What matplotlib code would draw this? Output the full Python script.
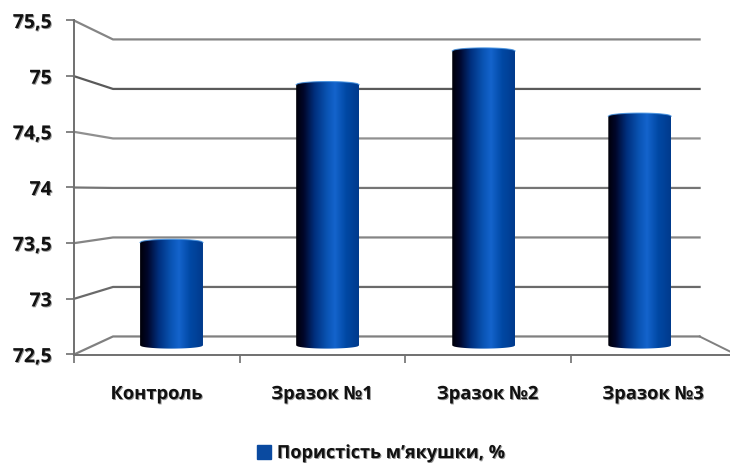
import numpy as np
import matplotlib
matplotlib.use("Agg")
import matplotlib.pyplot as plt
from matplotlib.colors import LinearSegmentedColormap
from matplotlib.patches import Patch, PathPatch
from matplotlib.path import Path
import matplotlib.patheffects as pe

# Datos
categorias = ["Контроль", "Зразок №1", "Зразок №2", "Зразок №3"]
valores = [73.48, 74.98, 75.3, 74.68]
y_ticks = [72.5, 73, 73.5, 74, 74.5, 75, 75.5]
y_labels = ["72,5", "73", "73,5", "74", "74,5", "75", "75,5"]
leyenda = "Пористість м’якушки, %"
grid_colors = ["#808080", "#6a6a6a", "#858585", "#757575", "#909090", "#5a5a5a", "#858585"]

plt.rcParams["font.family"] = ["Open Sans", "DejaVu Sans"]
plt.rcParams["font.weight"] = "bold"

W, H = 730, 464
fig = plt.figure(figsize=(W / 100, H / 100), dpi=100)
ax = fig.add_axes([74 / W, 1 - 355.5 / H, 662 / W, 334 / H])
ax.set_xlim(0, 4)
ax.set_ylim(72.5, 75.5)


# Pseudo 3D: d=0 plano frontal, d=1 pared del fondo
def proy(x, y, d):
    px = x + d * (0.2356 + (3.78 - 0.2356 - 4) * x / 4)
    py = y + d * (0.162 + (75.33 - 72.662 - 3) * (y - 72.5) / 3)
    return px, py


sombra = [pe.withSimplePatchShadow(offset=(0.7, -0.7), shadow_rgbFace="#555555", alpha=0.6)]

# Rejilla
for v, c in zip(y_ticks, grid_colors):
    x0, y0 = proy(0, v, 0)
    x1, y1 = proy(0, v, 1)
    x2, y2 = proy(4, v, 1)
    ax.plot([x0, x1, x2], [y0, y1, y2], color=c, lw=1.6, clip_on=False, zorder=1)

# Suelo, lado derecho
x1, y1 = proy(4, 72.5, 1)
ax.plot([x1, 4], [y1, 72.5], color="#808080", lw=1.4, clip_on=False, zorder=1)

# Cilindros
cmap = LinearSegmentedColormap.from_list(
    "cil",
    [(0, "#000008"), (0.12, "#00062a"), (0.3, "#00307f"), (0.5, "#0a55b5"),
     (0.62, "#1464cc"), (0.8, "#0048a4"), (1, "#003a8c")],
)
grad = np.linspace(0, 1, 256).reshape(1, -1)
ancho = 0.19  # semiancho en unidades de x
for i, v in enumerate(valores):
    xc, _ = proy(i + 0.5, 73, 0.5)
    _, yb = proy(xc, 72.5, 0.5)
    _, yt = proy(xc, v, 0.5)
    xs = np.linspace(xc - ancho, xc + ancho, 40)
    e = np.sqrt(np.clip(1 - ((xs - xc) / ancho) ** 2, 0, 1))
    verts = list(zip(xs, yb - 0.028 * e)) + list(zip(xs[::-1], (yt + 0.028 * e)[::-1]))
    verts.append(verts[0])
    codes = [Path.MOVETO] + [Path.LINETO] * (len(verts) - 2) + [Path.CLOSEPOLY]
    clip = PathPatch(Path(verts, codes), transform=ax.transData, fc="none", ec="none")
    ax.add_patch(clip)
    im = ax.imshow(grad, cmap=cmap, extent=[xc - ancho, xc + ancho, yb - 0.05, yt + 0.05],
                   aspect="auto", zorder=3, interpolation="bilinear")
    im.set_clip_path(clip)
    ax.plot(xs, yt + 0.028 * e, color="#3f8fe0", lw=0.8, zorder=4, alpha=0.8)
ax.set_xlim(0, 4)
ax.set_ylim(72.5, 75.5)

# Ejes
for s in ["top", "right"]:
    ax.spines[s].set_visible(False)
for s in ["left", "bottom"]:
    ax.spines[s].set_color("#707070")
    ax.spines[s].set_linewidth(1.4)
ax.patch.set_alpha(0)
ax.set_yticks(y_ticks)
ax.set_yticklabels(y_labels, fontsize=14, fontweight="bold", color="#111111", path_effects=sombra)
ax.set_xticks([0, 1, 2, 3, 4])
ax.set_xticklabels([])
ax.set_xticks([0.5, 1.5, 2.5, 3.5], minor=True)
ax.set_xticklabels(categorias, minor=True, fontsize=13.2, fontweight="bold", color="#111111",
                   path_effects=sombra)
ax.tick_params(axis="y", length=6, width=1.2, color="#707070", pad=10)
ax.tick_params(axis="x", which="major", length=6, width=1.2, color="#707070")
ax.tick_params(axis="x", which="minor", length=0, pad=22)

# Leyenda
leg = fig.legend(
    handles=[Patch(color="#0a4aa0", label=leyenda)],
    loc="center", bbox_to_anchor=(380 / W, 1 - 454 / H), frameon=False,
    prop={"size": 13, "weight": "bold"}, handlelength=0.8, handleheight=0.8, handletextpad=0.3,
)
for t in leg.get_texts():
    t.set_color("#111111")
    t.set_path_effects(sombra)

fig.savefig("out.png", dpi=100)
